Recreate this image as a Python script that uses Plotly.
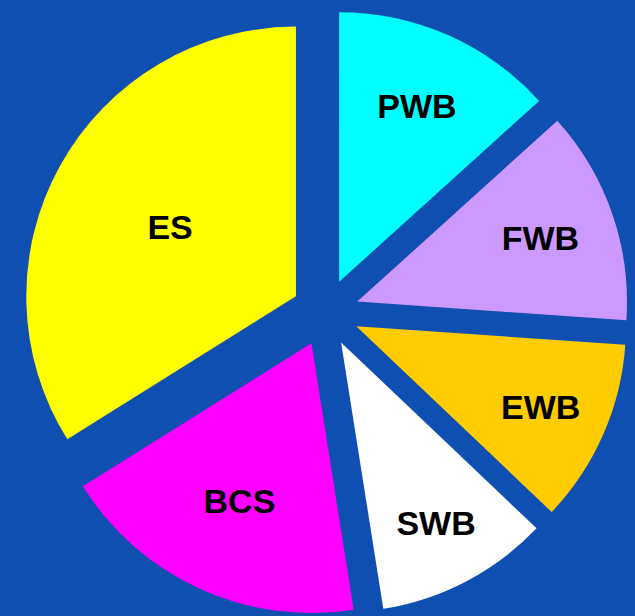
import plotly.graph_objects as go

labels = ["PWB", "FWB", "EWB", "SWB", "BCS", "ES"]
values = [13.3, 12.8, 11.0, 10.4, 18.6, 33.9]
colors = ["#00FFFF", "#CC99FF", "#FFCC00", "#FFFFFF", "#FF00FF", "#FFFF00"]

fig = go.Figure(go.Pie(
    labels=labels,
    values=values,
    sort=False,
    direction="clockwise",
    rotation=0,
    pull=[0.125] * len(values),
    marker=dict(colors=colors, line=dict(width=0)),
    texttemplate="%{label}",
    textposition="inside",
    insidetextorientation="horizontal",
    textfont=dict(family="Liberation Sans, Arial", size=34, color="black", weight="bold"),
    hoverinfo="label+percent",
    domain=dict(x=[0.025, 1], y=[0, 0.985]),
))

fig.update_layout(
    width=635, height=616,
    showlegend=False,
    margin=dict(l=0, r=0, t=0, b=0),
    paper_bgcolor="#0F4FB2",
    plot_bgcolor="#0F4FB2",
)

# page body has a default 8px margin; drop it so the figure fills the window
fig.write_html(
    "out.html",
    config={"displayModeBar": False},
    post_script="document.body.style.margin='0';document.body.style.overflow='hidden';",
)
